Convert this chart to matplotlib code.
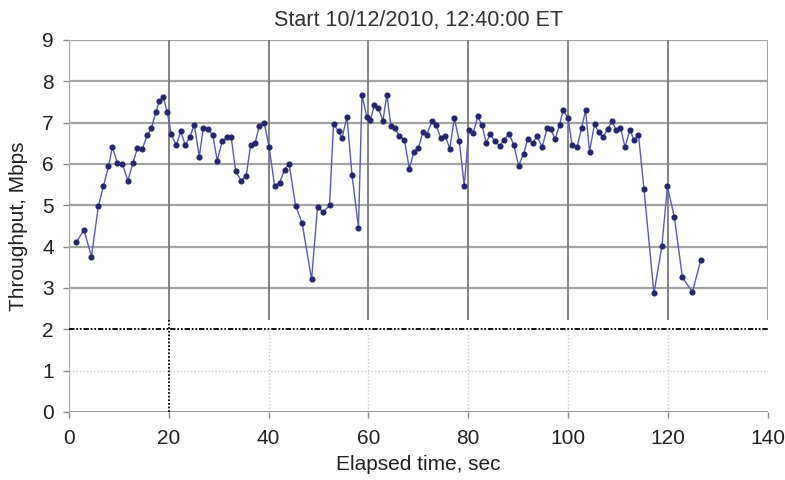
import numpy as np
import matplotlib.pyplot as plt

plt.rcParams['font.family'] = ['Liberation Sans', 'DejaVu Sans']

# Elapsed time (s) and measured throughput (Mbps)
elapsed = [1.5, 3.0, 4.5, 5.9, 6.9, 7.9, 8.7, 9.7, 10.7, 11.8, 12.8, 13.7, 14.7, 15.7,
           16.5, 17.4, 18.1, 18.9, 19.7, 20.5, 21.5, 22.4, 23.3, 24.2, 25.1, 26.1, 26.9,
           27.8, 28.8, 29.7, 30.7, 31.6, 32.5, 33.4, 34.5, 35.5, 36.4, 37.3, 38.1, 39.1,
           40.1, 41.2, 42.2, 43.2, 44.1, 45.4, 46.7, 48.6, 49.8, 50.9, 52.2, 53.0, 54.0,
           54.7, 55.7, 56.7, 58.0, 58.7, 59.7, 60.4, 61.2, 62.0, 62.9, 63.7, 64.5, 65.3,
           66.2, 67.2, 68.2, 69.1, 70.0, 70.9, 71.7, 72.7, 73.5, 74.5, 75.4, 76.3, 77.2,
           78.2, 79.2, 80.1, 81.0, 81.9, 82.7, 83.6, 84.4, 85.3, 86.3, 87.2, 88.2, 89.1,
           90.1, 91.1, 91.9, 92.9, 93.8, 94.8, 95.8, 96.5, 97.4, 98.3, 99.0, 100.0, 100.8,
           101.8, 102.7, 103.5, 104.3, 105.3, 106.1, 107.0, 107.9, 108.8, 109.6, 110.5,
           111.4, 112.4, 113.2, 114.1, 115.2, 117.2, 118.8, 119.9, 121.3, 122.9, 124.9,
           126.6]
throughput = [4.12, 4.40, 3.76, 4.99, 5.47, 5.94, 6.41, 6.02, 6.00, 5.60, 6.02, 6.38, 6.37,
              6.70, 6.86, 7.25, 7.53, 7.61, 7.25, 6.72, 6.45, 6.79, 6.45, 6.65, 6.95, 6.18,
              6.86, 6.85, 6.70, 6.08, 6.55, 6.65, 6.65, 5.82, 5.60, 5.71, 6.46, 6.50, 6.92,
              7.00, 6.41, 5.47, 5.55, 5.86, 6.00, 4.99, 4.58, 3.21, 4.97, 4.83, 5.00, 6.97,
              6.79, 6.63, 7.14, 5.74, 4.46, 7.66, 7.13, 7.07, 7.43, 7.35, 7.05, 7.68, 6.91,
              6.86, 6.68, 6.59, 5.88, 6.30, 6.38, 6.77, 6.71, 7.03, 6.95, 6.63, 6.68, 6.37,
              7.11, 6.55, 5.47, 6.83, 6.76, 7.15, 6.95, 6.51, 6.73, 6.55, 6.44, 6.59, 6.73,
              6.46, 5.96, 6.25, 6.60, 6.51, 6.67, 6.41, 6.87, 6.85, 6.60, 6.95, 7.30, 7.11,
              6.45, 6.41, 6.87, 7.30, 6.30, 6.97, 6.77, 6.65, 6.84, 7.03, 6.83, 6.87, 6.41,
              6.83, 6.57, 6.71, 5.40, 2.87, 4.02, 5.46, 4.71, 3.26, 2.90, 3.68]

x_ticks = [0, 20, 40, 60, 80, 100, 120, 140]
y_ticks = [0, 1, 2, 3, 4, 5, 6, 7, 8, 9]
threshold = 2

fig = plt.figure(figsize=(7.85, 4.8), dpi=100)
ax = fig.add_axes([0.0879, 0.1417, 0.8901, 0.775])
ax.set_xlim(0, 140)
ax.set_ylim(0, 9)

for s in ax.spines.values():
    s.set_visible(False)

grid_c = '#a4a4a4'
split = 2.22  # upper panel grid stops just above the threshold line

# horizontal grid
for y in y_ticks[3:]:
    ax.hlines(y, 0, 140, color=grid_c, lw=1.6, zorder=1)
ax.hlines(1, 0, 140, color='#cccccc', lw=1.0, linestyle=(0, (1, 1.5)), zorder=1)
ax.hlines(0, 0, 140, color='#8a8a8a', lw=2.0, zorder=2)
ax.hlines(threshold, 0, 140, color='black', lw=1.3,
          linestyle=(0, (3, 1, 1, 1, 1, 1)), zorder=3)

# vertical grid
for x in x_ticks[1:-1]:
    ax.vlines(x, split, 9, color='#7a7a7a', lw=1.3, zorder=1)
    if x == 20:
        ax.vlines(x, 0, split, color='black', lw=1.3, linestyle=(0, (1, 1)), zorder=3)
    else:
        ax.vlines(x, 0, threshold, color='#cccccc', lw=1.0, linestyle=(0, (1, 1.5)), zorder=1)
ax.vlines(0, 0, 9, color='#a8a8a8', lw=1.6, zorder=2)
ax.vlines(140, split, 9, color='#a8a8a8', lw=1.6, zorder=2)

ax.plot(elapsed, throughput, color='#5a5ab8', lw=1.0, marker='o', markersize=3.4,
        markerfacecolor='#26266e', markeredgecolor='#26266e', zorder=5)

ax.set_xticks(x_ticks)
ax.set_yticks(y_ticks)
ax.tick_params(axis='both', labelsize=15, colors='#8a8a8a', labelcolor='#222222',
               length=4, width=1)
ax.tick_params(axis='x', pad=8)
ax.tick_params(axis='y', pad=7)

ax.set_xlabel('Elapsed time, sec', fontsize=15, color='#222222', labelpad=5)
ax.set_ylabel('Throughput, Mbps', fontsize=15, color='#222222', labelpad=10)
ax.set_title('Start 10/12/2010, 12:40:00 ET', fontsize=15.5, color='#333333', pad=10)

fig.savefig('out.png', dpi=100)
